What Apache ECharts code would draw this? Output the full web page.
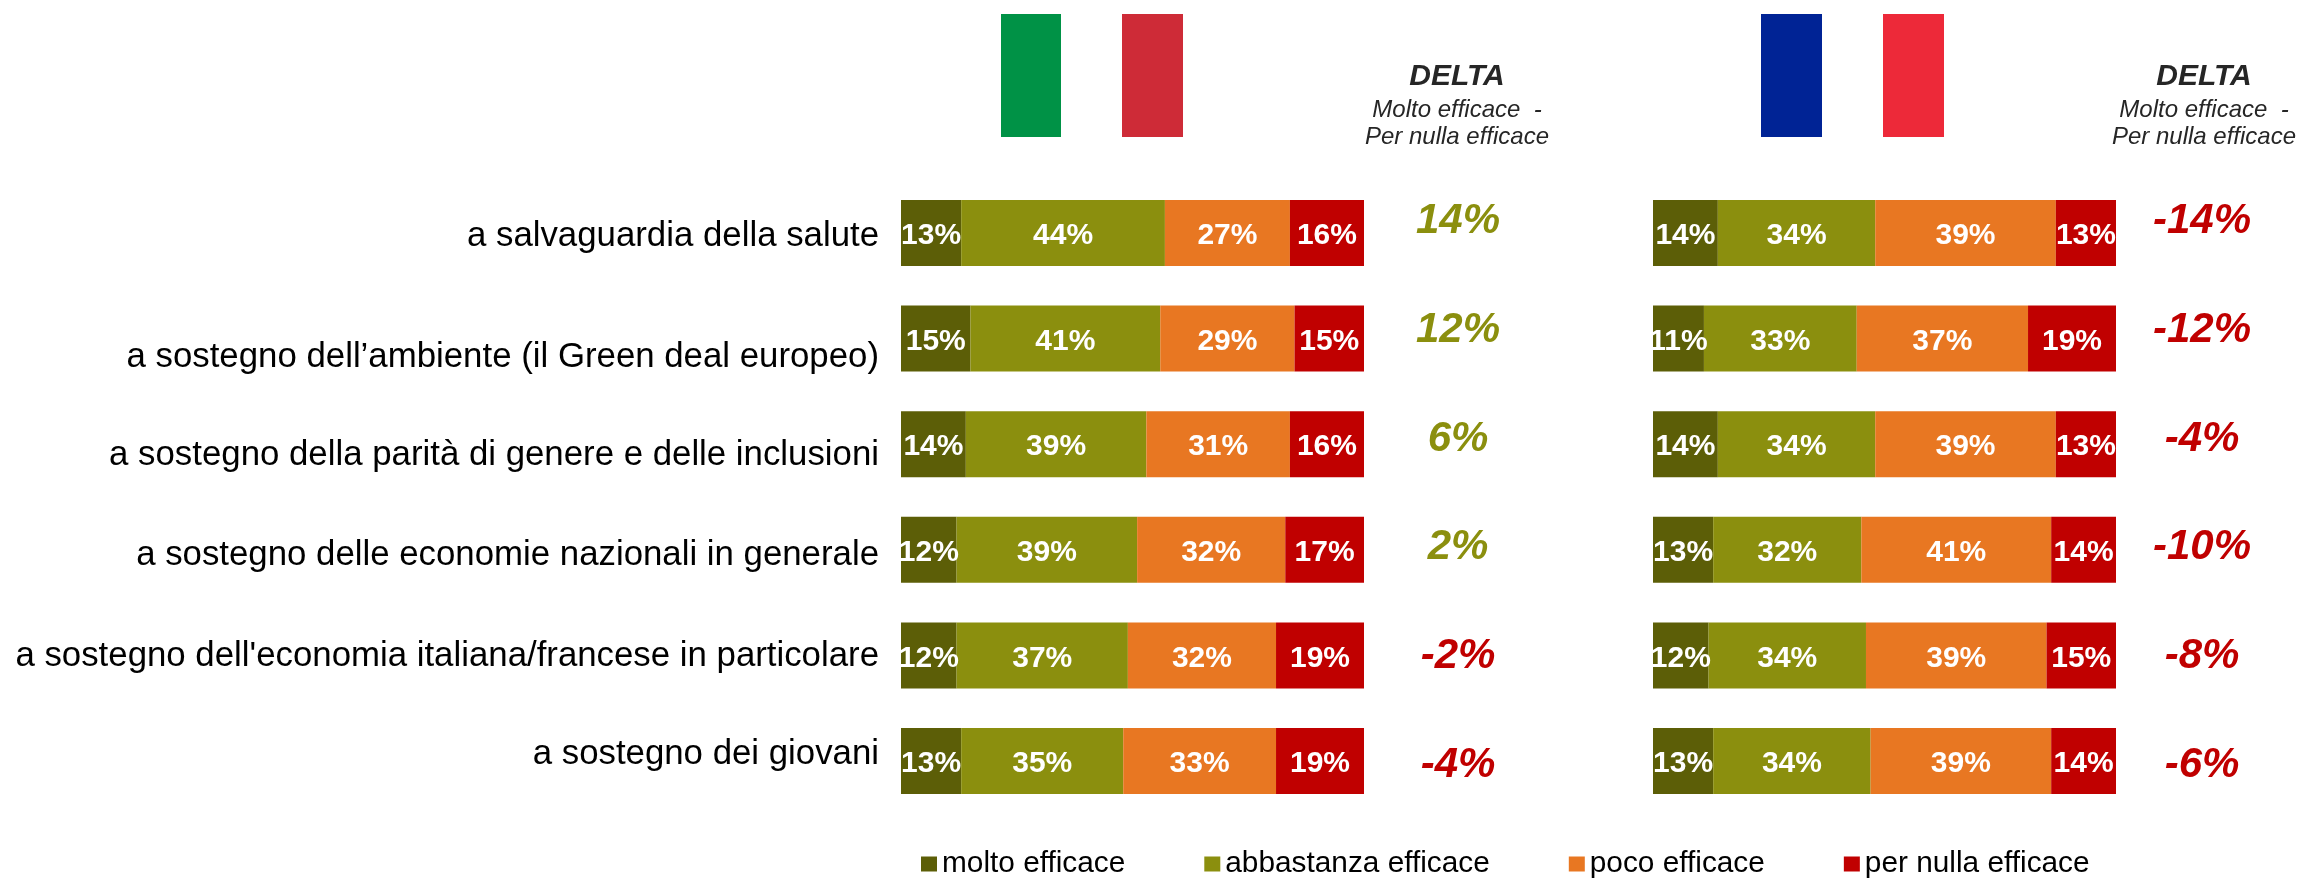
<!DOCTYPE html>
<html>
<head>
<meta charset="utf-8">
<style>html,body{margin:0;padding:0;background:#fff}#c{width:2297px;height:878px}</style>
<script src="https://cdn.jsdelivr.net/npm/echarts@6/dist/echarts.min.js"></script>
</head>
<body>
<div id="c"></div>
<script>
const categories = [
  "a salvaguardia della salute",
  "a sostegno dell’ambiente (il Green deal europeo)",
  "a sostegno della parità di genere e delle inclusioni",
  "a sostegno delle economie nazionali in generale",
  "a sostegno dell'economia italiana/francese in particolare",
  "a sostegno dei giovani"
];
const seriesNames = ["molto efficace", "abbastanza efficace", "poco efficace", "per nulla efficace"];
const colors = ["#5C5E07", "#8B8F0E", "#E87722", "#C00000"];

const itMolto = [13, 15, 14, 12, 12, 13];
const itAbbastanza = [44, 41, 39, 39, 37, 35];
const itPoco = [27, 29, 31, 32, 32, 33];
const itNulla = [16, 15, 16, 17, 19, 19];

const frMolto = [14, 11, 14, 13, 12, 13];
const frAbbastanza = [34, 33, 34, 32, 34, 34];
const frPoco = [39, 37, 39, 41, 39, 39];
const frNulla = [13, 19, 13, 14, 15, 14];

const itDelta = [14, 12, 6, 2, -2, -4];
const frDelta = [-14, -12, -4, -10, -8, -6];

const labelShift = [3, 19, 11, 6, 1, -7];
const font = '"Liberation Sans", Arial, sans-serif';

const labelRich = {};
labelShift.forEach((s, i) => {
  labelRich['r' + i] = {
    fontFamily: font, fontSize: 34.8, color: '#000',
    padding: s >= 0 ? [2 * s, 0, 0, 0] : [0, 0, -2 * s, 0]
  };
});

function barSeries(name, data, idx, axis) {
  return {
    name, type: 'bar', stack: 'p' + axis, xAxisIndex: axis, yAxisIndex: axis,
    data, barWidth: 66, itemStyle: { color: colors[idx] },
    label: {
      show: true, position: 'inside', formatter: '{c}%', color: '#fff',
      fontFamily: font, fontWeight: 'bold', fontSize: 30, offset: [0, 3]
    }
  };
}
function deltaSeries(values, axis) {
  return {
    type: 'scatter', xAxisIndex: axis, yAxisIndex: axis, symbolSize: 0, silent: true,
    itemStyle: { opacity: 1 },
    data: values.map((d, i) => ({
      value: [0, i, d],
      label: { color: d >= 0 ? '#8B8F0E' : '#C00000' }
    })),
    label: {
      show: true, position: 'inside', opacity: 1,
      formatter: p => p.value[2] + '%',
      fontFamily: font, fontWeight: 'bold', fontStyle: 'italic', fontSize: 42
    }
  };
}
function deltaTitle(x) {
  return {
    text: 'DELTA', subtext: 'Molto efficace  -\nPer nulla efficace',
    left: x, top: 62, textAlign: 'center', itemGap: 5, padding: 0,
    textStyle: { fontFamily: font, fontWeight: 'bold', fontStyle: 'italic', fontSize: 30, color: '#262626' },
    subtextStyle: { fontFamily: font, fontStyle: 'italic', fontSize: 24, lineHeight: 27, color: '#262626' }
  };
}
const hiddenX = { type: 'value', show: false, min: 0, max: 100 };
const hiddenDeltaX = { type: 'value', show: false, min: -1, max: 1 };
const plainY = { type: 'category', inverse: true, data: categories, show: false };
const rect = (x, w, fill) => ({ type: 'rect', shape: { x, y: 14, width: w, height: 123 }, style: { fill } });

const option = {
  animation: false,
  backgroundColor: '#fff',
  title: [deltaTitle(1457), deltaTitle(2204)],
  legend: {
    left: 921, top: 849, icon: 'rect', itemWidth: 16, itemHeight: 15, itemGap: 79, padding: 0,
    data: seriesNames,
    textStyle: { fontFamily: font, fontSize: 29.8, color: '#000' }
  },
  grid: [
    { left: 901, top: 180.2, width: 463, height: 633.6 },
    { left: 1653, top: 180.2, width: 463, height: 633.6 },
    { left: 1408, top: 167.1, width: 100, height: 652.8 },
    { left: 2152, top: 167.1, width: 100, height: 652.8 }
  ],
  xAxis: [
    { ...hiddenX, gridIndex: 0 }, { ...hiddenX, gridIndex: 1 },
    { ...hiddenDeltaX, gridIndex: 2 }, { ...hiddenDeltaX, gridIndex: 3 }
  ],
  yAxis: [
    {
      type: 'category', inverse: true, gridIndex: 0, data: categories,
      axisLine: { show: false }, axisTick: { show: false },
      axisLabel: {
        margin: 22, align: 'right', interval: 0,
        formatter: (v, i) => '{r' + i + '|' + v + '}',
        rich: labelRich
      }
    },
    { ...plainY, gridIndex: 1 },
    { ...plainY, gridIndex: 2 },
    { ...plainY, gridIndex: 3 }
  ],
  series: [
    barSeries(seriesNames[0], itMolto, 0, 0),
    barSeries(seriesNames[1], itAbbastanza, 1, 0),
    barSeries(seriesNames[2], itPoco, 2, 0),
    barSeries(seriesNames[3], itNulla, 3, 0),
    barSeries(seriesNames[0], frMolto, 0, 1),
    barSeries(seriesNames[1], frAbbastanza, 1, 1),
    barSeries(seriesNames[2], frPoco, 2, 1),
    barSeries(seriesNames[3], frNulla, 3, 1),
    deltaSeries(itDelta, 2),
    deltaSeries(frDelta, 3)
  ],
  graphic: [
    rect(1001, 60, '#009246'), rect(1122, 61, '#CE2B37'),
    rect(1761, 61, '#002395'), rect(1883, 61, '#ED2939')
  ]
};
echarts.init(document.getElementById('c'), null, { renderer: 'canvas' }).setOption(option);
</script>
</body>
</html>
